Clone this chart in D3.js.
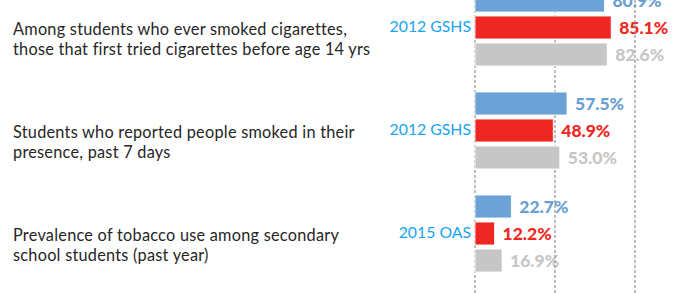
<!DOCTYPE html>
<html>
<head>
<meta charset="utf-8">
<script src="https://cdn.jsdelivr.net/npm/d3@7"></script>
<style>
  html, body { margin: 0; padding: 0; background: #ffffff; }
  svg text { font-family: Lato, "Open Sans", sans-serif; }
</style>
</head>
<body>
<div id="chart"></div>
<script>
//categories (each one is 2 lines of text on the left)
var categories = [
  "Among students who ever smoked cigarettes,<br/>those that first tried cigarettes before age 14 yrs",
  "Students who reported people smoked in their<br/>presence, past 7 days",
  "Prevalence of tobacco use among secondary<br/>school students (past year)"
];
//survey source shown next to bars
var sources = ["2012 GSHS", "2012 GSHS", "2015 OAS"];

//series values (percent) - top bar is blue, middle red, bottom gray
var seriesNames = ["blue", "red", "gray"];
var blueValues = [80.9, 57.5, 22.7];
var redValues = [85.1, 48.9, 12.2];
var grayValues = [82.6, 53.0, 16.9];
var gridTicks = [0, 50, 100];

var width = 682;
var height = 293;

var colors = {blue: "#6ca2d6", red: "#ee2723", gray: "#c6c6c6"};
var labelColors = {blue: "#6a9fd3", red: "#ee2723", gray: "#c6c6c6"};

var series = [
  {name: "blue", values: blueValues},
  {name: "red", values: redValues},
  {name: "gray", values: grayValues}
];

var svg = d3.select("#chart").append("svg")
    .attr("width", width)
    .attr("height", height);

//x scale: 0 sits right of the source labels
var x = d3.scaleLinear()
    .domain([0, 100])
    .range([475, 635]);

//one band for each category, first one partly off the top
var y = d3.scaleBand()
    .domain(categories)
    .range([-25, 284]);

//bars inside a category
var yInner = d3.scaleBand()
    .domain(seriesNames)
    .range([0, 81])
    .paddingInner(0.15)
    .paddingOuter(0.075);

function groupTop(cat) {
  return y(cat) + (y.bandwidth() - 81) / 2 + 1;
}
function groupMid(cat) {
  return y(cat) + y.bandwidth() / 2;
}

//category text on the left
var catText = svg.append("g").selectAll("text")
    .data(categories)
  .enter().append("text")
    .attr("x", 13)
    .attr("y", function (d) { return groupMid(d) + 8.5; })
    .style("font-size", "16.3px")
    .style("letter-spacing", "0.25px")
    .attr("fill", "#262626");

catText.each(function (d) {
  var lines = d.split("<br/>");
  var t = d3.select(this);
  lines.forEach(function (line, i) {
    t.append("tspan")
      .attr("x", 13)
      .attr("dy", i === 0 ? 0 : 19.5)
      .text(line);
  });
});

//source labels (right aligned against zero line)
svg.append("g").selectAll("text")
    .data(categories)
  .enter().append("text")
    .attr("x", 471)
    .attr("y", function (d) { return groupMid(d) + 5.5; })
    .attr("text-anchor", "end")
    .style("font-size", "15.8px")
    .attr("fill", "#17a3f0")
    .text(function (d, i) { return sources[i]; });

//value labels - drawn under the gridlines
var labelLayer = svg.append("g");
series.forEach(function (s) {
  labelLayer.selectAll("text.lab-" + s.name)
      .data(categories)
    .enter().append("text")
      .attr("class", "lab-" + s.name)
      .attr("x", function (d, i) { return x(s.values[i]) + 8; })
      .attr("y", function (d) { return groupTop(d) + yInner(s.name) + yInner.bandwidth() / 2 + 6.5; })
      .style("font-size", "17.5px")
      .style("font-weight", "900")
      .attr("fill", labelColors[s.name])
      .text(function (d, i) { return s.values[i].toFixed(1) + "%"; });
});

//dashed gridlines
svg.append("g").selectAll("line")
    .data(gridTicks)
  .enter().append("line")
    .attr("x1", function (d) { return x(d); })
    .attr("x2", function (d) { return x(d); })
    .attr("y1", 0)
    .attr("y2", height)
    .attr("stroke", "#9a9a9a")
    .attr("stroke-width", 1.3)
    .attr("stroke-dasharray", "3,2");

//bars
var barLayer = svg.append("g");
series.forEach(function (s) {
  barLayer.selectAll("rect.bar-" + s.name)
      .data(categories)
    .enter().append("rect")
      .attr("class", "bar-" + s.name)
      .attr("x", x(0))
      .attr("y", function (d) { return groupTop(d) + yInner(s.name); })
      .attr("width", function (d, i) { return x(s.values[i]) - x(0); })
      .attr("height", yInner.bandwidth())
      .attr("fill", colors[s.name])
      .attr("stroke", "#ffffff")
      .attr("stroke-width", 0.8);
});
</script>
</body>
</html>
